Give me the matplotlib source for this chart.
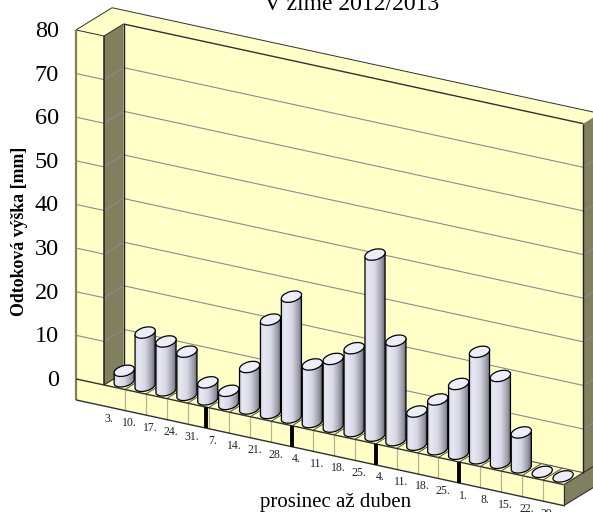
import numpy as np
import matplotlib
matplotlib.use("Agg")
import matplotlib.pyplot as plt
from matplotlib.patches import Polygon, Ellipse

# Weekly runoff height, December to April
dates = ["3.", "10.", "17.", "24.", "31.", "7.", "14.", "21.", "28.", "4.", "11.",
         "18.", "25.", "4.", "11.", "18.", "25.", "1.", "8.", "15.", "22.", "29."]
runoff = [2.4, 12.2, 11.2, 9.9, 3.9, 3.0, 9.5, 21.4, 27.7, 13.2, 15.5,
          19.0, 41.5, 22.8, 7.6, 11.4, 16.0, 24.4, 19.9, 8.0, 0.0, 0.0]
y_ticks = [0, 10, 20, 30, 40, 50, 60, 70, 80]
month_ends = [4.86, 9, 13, 17]

YELLOW = "#ffffc8"
OLIVE = "#80805f"
GRID = "#8c8c8c"
EDGE = "#303030"

# Oblique projection of (category, depth, value) on to the canvas
X0, Y0 = 104.0, 385.0
DX, DY = 20.9, 4.53
DEPTH_X, DEPTH_Y = 19.5, -12.0
Z = 349 / 80
WALL_U = -1.34   # left wall front face
RIM = 1.85       # depth of the top rim
SLAB = 21        # slab height


def project(u, d=0.0, z=0.0):
    return (X0 + DX * u + DEPTH_X * d, Y0 + DY * u + DEPTH_Y * d - Z * z)


def face(points, color, zorder=1):
    ax.add_patch(Polygon(points, closed=True, facecolor=color, edgecolor="none", zorder=zorder))


def line(a, b, color="black", lw=0.8, zorder=2):
    ax.plot([a[0], b[0]], [a[1], b[1]], color=color, lw=lw, zorder=zorder,
            solid_capstyle="butt")


def shift(p, dy):
    return (p[0], p[1] + dy)


fig = plt.figure(figsize=(5.93, 5.12), dpi=100)
ax = fig.add_axes([0, 0, 1, 1])
ax.set_xlim(0, 593)
ax.set_ylim(512, 0)
ax.axis("off")

n = len(dates)
top = y_ticks[-1]

# floor slab
face([project(WALL_U), project(n), project(n, RIM), project(WALL_U, RIM)], YELLOW)
face([project(WALL_U), project(n), shift(project(n), SLAB), shift(project(WALL_U), SLAB)], YELLOW)
face([project(n), project(n, RIM), shift(project(n, RIM), SLAB), shift(project(n), SLAB)], OLIVE)

# back wall, rim and dark wall sides
face([project(0, 1), project(n, 1), project(n, 1, top), project(0, 1, top)], YELLOW)
face([project(0, 1, top), project(n, 1, top), project(n, RIM, top), project(WALL_U, RIM, top),
      project(WALL_U, 0, top), project(0, 0, top)], YELLOW)
face([project(n, 1), project(n, RIM), project(n, RIM, top), project(n, 1, top)], OLIVE)
face([project(0), project(0, 1), project(0, 1, top), project(0, 0, top)], OLIVE, zorder=1.5)
face([project(WALL_U), project(0), project(0, 0, top), project(WALL_U, 0, top)], YELLOW, zorder=1.5)

# grid lines round the walls
for v in y_ticks[1:-1]:
    line(project(WALL_U, 0, v), project(0, 0, v), GRID, 0.8)
    line(project(0, 0, v), project(0, 1, v), GRID, 0.8)
    line(project(0, 1, v), project(n, 1, v), GRID, 0.8)
    line(project(n, 1, v), project(n, RIM, v), GRID, 0.8)

# wall outlines
line(project(WALL_U, 0, top), project(0, 0, top), EDGE, 0.7, 3)
line(project(WALL_U, 0, top), project(WALL_U, RIM, top), EDGE, 0.7, 3)
line(project(WALL_U, RIM, top), project(n, RIM, top), EDGE, 0.7, 3)
line(project(0, 0, top), project(0, 1, top), EDGE, 0.7, 3)
line(project(0, 1, top), project(n, 1, top), EDGE, 1.0, 3)
line(project(0), project(0, 0, top), "#202020", 1.1, 3)
line(project(0, 1), project(0, 1, top), "#202020", 1.0, 3)
line(project(n, 1), project(n, 1, top), "#202020", 1.0, 3)
line(shift(project(WALL_U), SLAB), project(WALL_U, 0, top), OLIVE, 1.6, 3)

# floor lines and slab edges
for k in range(1, n):
    line(project(k), project(k, 1), "#505040", 0.7)
    line(project(k), shift(project(k), SLAB), "#b4b48c", 0.9)
line(project(0, 1), project(n, 1), "#505050", 0.8)
line(project(0), project(0, 1), EDGE, 0.8)
line(project(WALL_U), project(n), EDGE, 1.0, 3)
line(shift(project(WALL_U), SLAB), shift(project(n), SLAB), EDGE, 1.0, 3)
line(project(n), shift(project(n), SLAB), EDGE, 0.8, 3)
line(project(n), project(n, RIM), EDGE, 0.8, 3)
line(shift(project(n), SLAB), shift(project(n, RIM), SLAB), EDGE, 0.8, 3)
for k in month_ends:
    line(project(k), shift(project(k), SLAB), "black", 2.8, 3)

# cylinders
A, B, TILT = 10.4, 5.2, np.radians(-15)
t = np.linspace(0, np.pi, 40)
shade = np.interp(np.linspace(0, 1, 48), [0, 0.2, 0.5, 0.8, 1],
                  [0.80, 0.91, 0.85, 0.60, 0.28])


def disc(cx, cy, zorder):
    ax.add_patch(Ellipse((cx, cy), 2 * A, 2 * B, angle=np.degrees(TILT), facecolor="#eeeefa",
                         edgecolor="black", linewidth=0.9, zorder=zorder))


for i, v in enumerate(runoff):
    zorder = 4 + i * 0.01
    cx, cy = project(i + 0.5, 0.5)
    tx, ty = project(i + 0.5, 0.5, v)
    if v == 0:
        disc(cx, cy, zorder)
        continue
    # lower half of the base ellipse, joined to the top edge
    ex = A * np.cos(t) * np.cos(TILT) - B * np.sin(t) * np.sin(TILT)
    ey = A * np.cos(t) * np.sin(TILT) + B * np.sin(t) * np.cos(TILT)
    body = np.column_stack([cx + ex, cy + ey])
    body = np.vstack([[tx + ex[0], ty + ey[0]], body, [tx + ex[-1], ty + ey[-1]]])
    ax.add_patch(Polygon(body, closed=True, facecolor="none", edgecolor="black",
                         linewidth=0.9, zorder=zorder + 0.002))
    # horizontal shading of the cylinder wall
    height = int(cy - ty) + 16
    img = np.tile(shade, (height, 1))
    rgb = np.dstack([img, img, np.clip(img + 0.05, 0, 1)])
    left = cx - A - 1.5
    im = ax.imshow(rgb, extent=(left, left + 24, ty - 8 + height, ty - 8),
                   interpolation="bilinear", aspect="auto", zorder=zorder + 0.001)
    im.set_clip_path(Polygon(body, closed=True, transform=ax.transData))
    disc(tx, ty, zorder + 0.003)
ax.set_xlim(0, 593)
ax.set_ylim(512, 0)

# texts
serif = "Liberation Serif"
for v in y_ticks:
    ax.text(59, project(WALL_U, 0, v)[1] + 1.5, str(v), ha="right", va="center",
            family=serif, fontsize=17.5, color="black", zorder=6)
for i, label in enumerate(dates):
    x, y = project(i)
    ax.text(x + 4.5, y + 33.5, label, ha="center", va="center", family=serif,
            fontsize=8.5, color="#222222", zorder=6)
ax.text(19.5, 231, "Odtoková výška [mm]", rotation=90, ha="center", va="center",
        family=serif, fontweight="bold", fontsize=12.8, zorder=6)
ax.text(335.5, 507, "prosinec až duben", ha="center", va="baseline", family=serif,
        fontsize=15, zorder=6)
ax.text(352, 10.5, "V zime 2012/2013", ha="center", va="baseline", family=serif,
        fontsize=17, zorder=6)

fig.savefig("out.png", dpi=100)
